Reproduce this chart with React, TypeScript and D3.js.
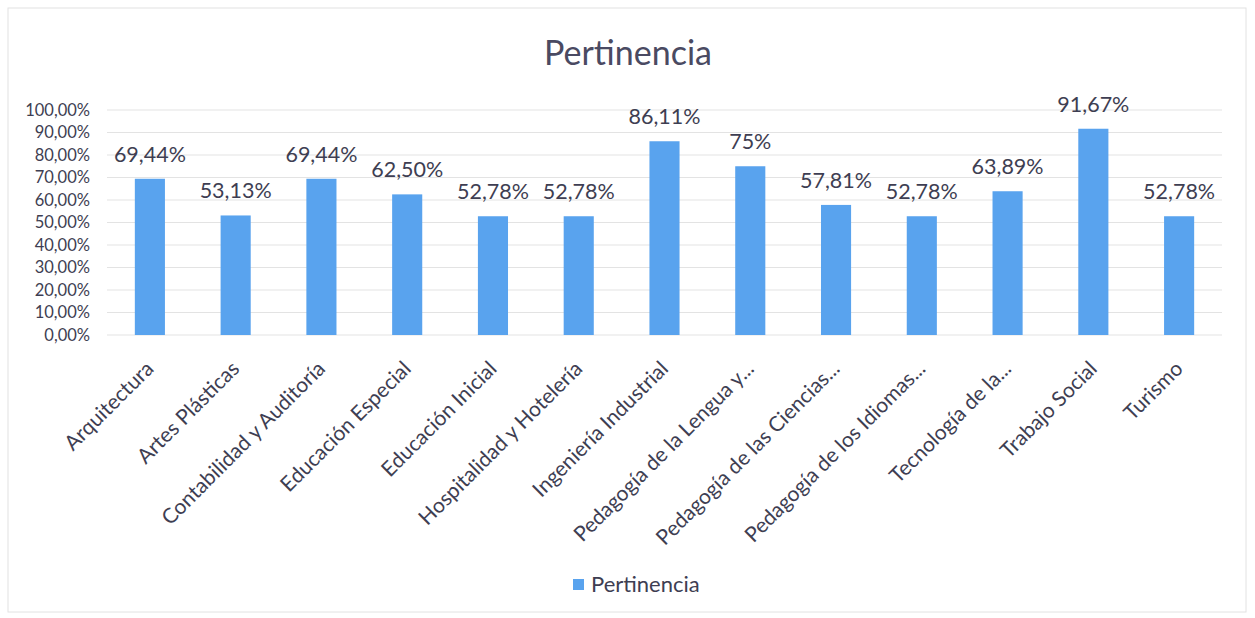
import React from "react";
import * as d3 from "d3";

const categories: string[] = [
  "Arquitectura",
  "Artes Plásticas",
  "Contabilidad y Auditoría",
  "Educación Especial",
  "Educación Inicial",
  "Hospitalidad y Hotelería",
  "Ingeniería Industrial",
  "Pedagogía de la Lengua y...",
  "Pedagogía de las Ciencias...",
  "Pedagogía de los Idiomas...",
  "Tecnología de la...",
  "Trabajo Social",
  "Turismo",
];
const values: number[] = [69.44, 53.13, 69.44, 62.5, 52.78, 52.78, 86.11, 75, 57.81, 52.78, 63.89, 91.67, 52.78];
const valueLabels: string[] = ["69,44%", "53,13%", "69,44%", "62,50%", "52,78%", "52,78%", "86,11%", "75%", "57,81%", "52,78%", "63,89%", "91,67%", "52,78%"];
const yTicks: number[] = [0, 10, 20, 30, 40, 50, 60, 70, 80, 90, 100];
const yTickLabels: string[] = ["0,00%", "10,00%", "20,00%", "30,00%", "40,00%", "50,00%", "60,00%", "70,00%", "80,00%", "90,00%", "100,00%"];
const seriesName = "Pertinencia";
const title = "Pertinencia";

const W = 1255;
const H = 618;
const FONT = "Lato, 'Open Sans', sans-serif";
const TEXT = "#3e3e52";
const BAR = "#59a3ee";

export default function App() {
  const x = d3.scaleBand<string>().domain(categories).range([107, 1222]).paddingInner(0).paddingOuter(0);
  const y = d3.scaleLinear().domain([0, 100]).range([335, 110]);
  const bw = x.bandwidth() * 0.351;

  return (
    <svg width={W} height={H} style={{ position: "absolute", left: 0, top: 0, background: "#fff" }} fontFamily={FONT}>
      <rect x={8} y={8} width={1238} height={604} fill="#fff" stroke="#e2e2e2" />
      <text x={628} y={65} textAnchor="middle" fontSize={34} fill="#4a4a62">{title}</text>
      {yTicks.map((t, i) => (
        <g key={t}>
          <line x1={107} x2={1222} y1={y(t)} y2={y(t)} stroke="#e3e3e3" strokeWidth={1} />
          <text x={90} y={y(t)} dy="0.35em" textAnchor="end" fontSize={16.5} fill={TEXT}>{yTickLabels[i]}</text>
        </g>
      ))}
      {categories.map((c, i) => {
        const cx = (x(c) as number) + x.bandwidth() / 2;
        return (
          <g key={c}>
            <rect x={cx - bw / 2} y={y(values[i])} width={bw} height={y(0) - y(values[i])} fill={BAR} />
            <text x={cx} y={y(values[i]) - 17} textAnchor="middle" fontSize={21.5} fill={TEXT}>{valueLabels[i]}</text>
            <text transform={`translate(${cx + 5},${370}) rotate(-45)`} textAnchor="end" fontSize={21} fill={TEXT}>{c}</text>
          </g>
        );
      })}
      <rect x={573} y={579} width={11} height={11} fill={BAR} />
      <text x={591} y={592} fontSize={22} fill={TEXT}>{seriesName}</text>
    </svg>
  );
}
